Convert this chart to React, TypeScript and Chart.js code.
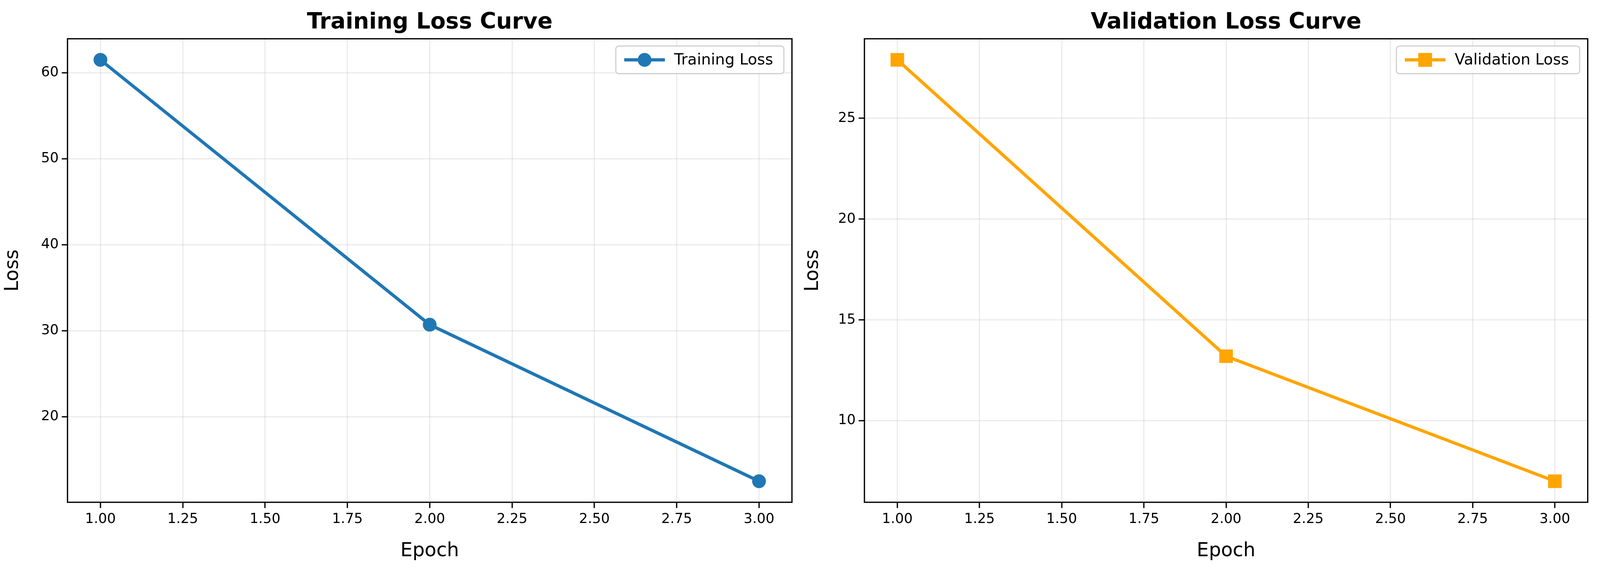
import React, { useEffect, useRef } from "react";
import { Chart, registerables } from "chart.js";
Chart.register(...registerables);

const epochs = [1, 2, 3];
const trainLoss = [61.5, 30.7, 12.5];
const valLoss = [27.9, 13.2, 7.0];
const xTicks = [1, 1.25, 1.5, 1.75, 2, 2.25, 2.5, 2.75, 3];
const trainYTicks = [20, 30, 40, 50, 60];
const valYTicks = [10, 15, 20, 25];

const FONT = "'DejaVu Sans', sans-serif";

type Cfg = {
  title: string; label: string; data: number[]; color: string; style: "circle" | "rect";
  radius: number; yMin: number; yMax: number; yTicks: number[]; yWidth: number; padRight: number;
};

function makeChart(canvas: HTMLCanvasElement, c: Cfg, s: number) {
  const overlay = {
    id: "overlay",
    afterDraw(chart: any) {
      const ctx = chart.ctx as CanvasRenderingContext2D;
      const a = chart.chartArea;
      ctx.save();
      ctx.strokeStyle = "#000";
      ctx.lineWidth = 3.3 * s;
      ctx.strokeRect(a.left, a.top, a.right - a.left, a.bottom - a.top);
      ctx.fillStyle = "#000";
      ctx.font = `bold ${58 * s}px ${FONT}`;
      ctx.textAlign = "center";
      ctx.textBaseline = "alphabetic";
      ctx.fillText(c.title, (a.left + a.right) / 2, 74 * s);
      ctx.font = `${40 * s}px ${FONT}`;
      const tw = ctx.measureText(c.label).width;
      const w = tw + 180 * s, h = 72 * s;
      const x0 = a.right - 21 * s - w, y0 = a.top + 19 * s;
      ctx.fillStyle = "rgba(255,255,255,0.8)";
      ctx.strokeStyle = "#d0d0d0";
      ctx.lineWidth = 3 * s;
      ctx.beginPath();
      (ctx as any).roundRect(x0, y0, w, h, 8 * s);
      ctx.fill();
      ctx.stroke();
      const ly = y0 + h / 2;
      ctx.strokeStyle = c.color;
      ctx.lineWidth = 8.3 * s;
      ctx.beginPath();
      ctx.moveTo(x0 + 22 * s, ly);
      ctx.lineTo(x0 + 128 * s, ly);
      ctx.stroke();
      ctx.fillStyle = c.color;
      const mr = 18 * s;
      if (c.style === "circle") {
        ctx.beginPath();
        ctx.arc(x0 + 75 * s, ly, mr, 0, Math.PI * 2);
        ctx.fill();
      } else {
        ctx.fillRect(x0 + 75 * s - mr, ly - mr, 2 * mr, 2 * mr);
      }
      ctx.fillStyle = "#000";
      ctx.textAlign = "left";
      ctx.textBaseline = "middle";
      ctx.fillText(c.label, x0 + 152 * s, ly + 2 * s);
      ctx.restore();
    },
  };
  const grid = { color: "rgba(176,176,176,0.3)", lineWidth: 2.5 * s, tickColor: "#000", tickLength: 15 * s, tickWidth: 3.3 * s };
  return new Chart(canvas, {
    type: "line",
    data: {
      datasets: [{
        label: c.label,
        data: epochs.map((e, i) => ({ x: e, y: c.data[i] })),
        borderColor: c.color,
        backgroundColor: c.color,
        borderWidth: 8.3 * s,
        pointStyle: c.style,
        pointRadius: c.radius * s,
        pointBorderWidth: 0,
        tension: 0,
      }],
    },
    options: {
      responsive: false,
      animation: false,
      devicePixelRatio: 1,
      layout: { padding: { top: 101 * s, right: c.padRight * s, left: 0, bottom: 0 } },
      plugins: { legend: { display: false }, title: { display: false }, tooltip: { enabled: false } },
      scales: {
        x: {
          type: "linear", min: 0.9, max: 3.1,
          afterBuildTicks: (sc: any) => { sc.ticks = xTicks.map((v) => ({ value: v })); },
          afterFit: (sc: any) => { sc.height = 162 * s; },
          ticks: { color: "#000", font: { size: 36 * s, family: FONT }, padding: 8 * s, maxRotation: 0, callback: (v: any) => Number(v).toFixed(2) },
          grid,
          border: { display: false },
          title: { display: true, text: "Epoch", color: "#000", font: { size: 50 * s, family: FONT }, padding: { top: 4 * s } },
        },
        y: {
          type: "linear", min: c.yMin, max: c.yMax,
          afterBuildTicks: (sc: any) => { sc.ticks = c.yTicks.map((v) => ({ value: v })); },
          afterFit: (sc: any) => { sc.width = c.yWidth * s; },
          ticks: { color: "#000", font: { size: 36 * s, family: FONT }, padding: 8 * s },
          grid,
          border: { display: false },
          title: { display: true, text: "Loss", color: "#000", font: { size: 50 * s, family: FONT }, padding: { bottom: 10 * s } },
        },
      },
    },
    plugins: [overlay],
  } as any);
}

export default function App() {
  const r1 = useRef<HTMLCanvasElement>(null);
  const r2 = useRef<HTMLCanvasElement>(null);
  const W = document.documentElement.clientWidth || window.innerWidth;
  const s = W / 4172;
  const cw = Math.floor(W / 2);
  const ch = Math.round(1471 * s);
  useEffect(() => {
    document.body.style.margin = "0";
    document.body.style.overflow = "hidden";
    const a = makeChart(r1.current!, {
      title: "Training Loss Curve", label: "Training Loss", data: trainLoss, color: "#1f77b4", style: "circle",
      radius: 18, yMin: 10.05, yMax: 63.95, yTicks: trainYTicks, yWidth: 176, padRight: 21,
    }, s);
    const b = makeChart(r2.current!, {
      title: "Validation Loss Curve", label: "Validation Loss", data: valLoss, color: "#ffa500", style: "rect",
      radius: 25, yMin: 5.955, yMax: 28.945, yTicks: valYTicks, yWidth: 168, padRight: 32,
    }, s);
    return () => { a.destroy(); b.destroy(); };
  }, []);
  return (
    <div style={{ position: "absolute", left: 0, top: 0, width: W, height: ch, background: "#fff", overflow: "hidden" }}>
      <canvas ref={r1} width={cw} height={ch} style={{ position: "absolute", left: 0, top: 0 }} />
      <canvas ref={r2} width={cw} height={ch} style={{ position: "absolute", left: cw, top: 0 }} />
    </div>
  );
}
